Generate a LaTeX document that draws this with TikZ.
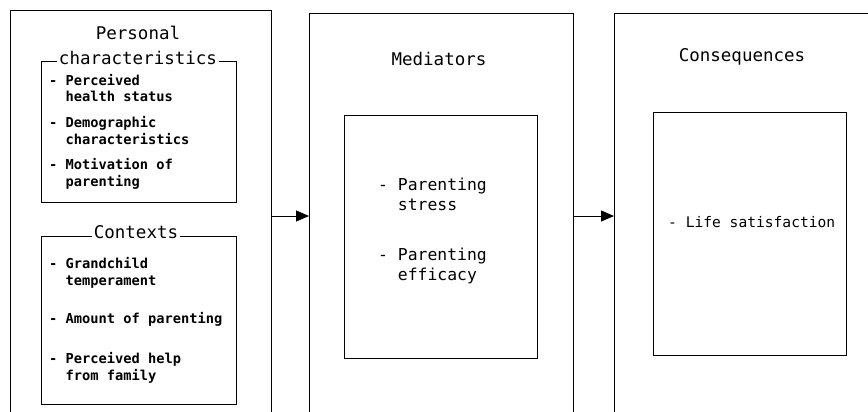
\documentclass[tikz,border=0pt]{standalone}
\usepackage{fontspec}
\setmonofont{DejaVu Sans Mono}
\usetikzlibrary{arrows.meta}
\tikzset{
  inbox/.style={draw,line width=0.9pt,inner sep=0pt,outer sep=0pt},
  ttl/.style={font=\ttfamily\fontsize{17.5}{21}\selectfont,inner sep=1pt},
  ttlbg/.style={ttl,fill=white,inner sep=2pt},
  itemL/.style={font=\ttfamily\bfseries\fontsize{13.7}{17}\selectfont,align=left,anchor=base west,inner sep=0pt},
  itemM/.style={font=\ttfamily\fontsize{16.4}{20}\selectfont,align=left,anchor=base west,inner sep=0pt},
  itemQ/.style={font=\ttfamily\fontsize{14.6}{20}\selectfont,align=left,anchor=base west,inner sep=0pt},
  arr/.style={line width=0.9pt,-{Triangle[length=13pt,width=11pt]}},
  edge/.style={line width=0.9pt}
}
\begin{document}
\begin{tikzpicture}[x=1pt,y=-1pt]
\useasboundingbox (0,0) rectangle (868,412);
% outer frames (open at bottom)
\coordinate (Lsw) at (10,412); \coordinate (Lnw) at (10,10);
\coordinate (Lne) at (271,10); \coordinate (Lse) at (271,412);
\coordinate (Msw) at (309,412); \coordinate (Mnw) at (309,13);
\coordinate (Mne) at (573,13); \coordinate (Mse) at (573,412);
\coordinate (Rsw) at (614,412); \coordinate (Rnw) at (614,13);
\coordinate (Rne) at (868,13);
\draw[edge] (Lsw) -- (Lnw) -- (Lne) -- (Lse);
\draw[edge] (Msw) -- (Mnw) -- (Mne) -- (Mse);
\draw[edge] (Rsw) -- (Rnw) -- (Rne);
% inner boxes
\draw[inbox] (41,61) rectangle (236,202);
\draw[inbox] (41,236) rectangle (236,404);
\draw[inbox] (344,115) rectangle (537,358);
\draw[inbox] (653,112) rectangle (846,355);
% titles
\node[ttl] (t1a) at (138,33) {Personal};
\node[ttlbg] (t1b) at (138,58) {characteristics};
\node[ttlbg] (t2) at (136,232) {Contexts};
\node[ttl] (t3) at (439,59) {Mediators};
\node[ttl] (t4) at (742,57) {Consequences};
% items, personal characteristics (base = baseline of last line)
\node[itemL] (p1) at (49,102) {- Perceived\\\ \ health status};
\node[itemL] (p2) at (49,144) {- Demographic\\\ \ characteristics};
\node[itemL] (p3) at (49,186) {- Motivation of\\\ \ parenting};
% items, contexts
\node[itemL] (c1) at (49,285) {- Grandchild\\\ \ temperament};
\node[itemL] (c2) at (49,323) {- Amount of parenting};
\node[itemL] (c3) at (49,380) {- Perceived help\\\ \ from family};
% mediators
\node[itemM] (m1) at (378,210) {- Parenting\\\ \ stress};
\node[itemM] (m2) at (378,280) {- Parenting\\\ \ efficacy};
% consequences
\node[itemQ] (q1) at (668,227) {- Life satisfaction};
% arrows
\coordinate (a1s) at (271,216); \coordinate (a1e) at (309,216);
\coordinate (a2s) at (573,216); \coordinate (a2e) at (614,216);
\draw[arr] (a1s) -- (a1e);
\draw[arr] (a2s) -- (a2e);
\end{tikzpicture}
\end{document}
